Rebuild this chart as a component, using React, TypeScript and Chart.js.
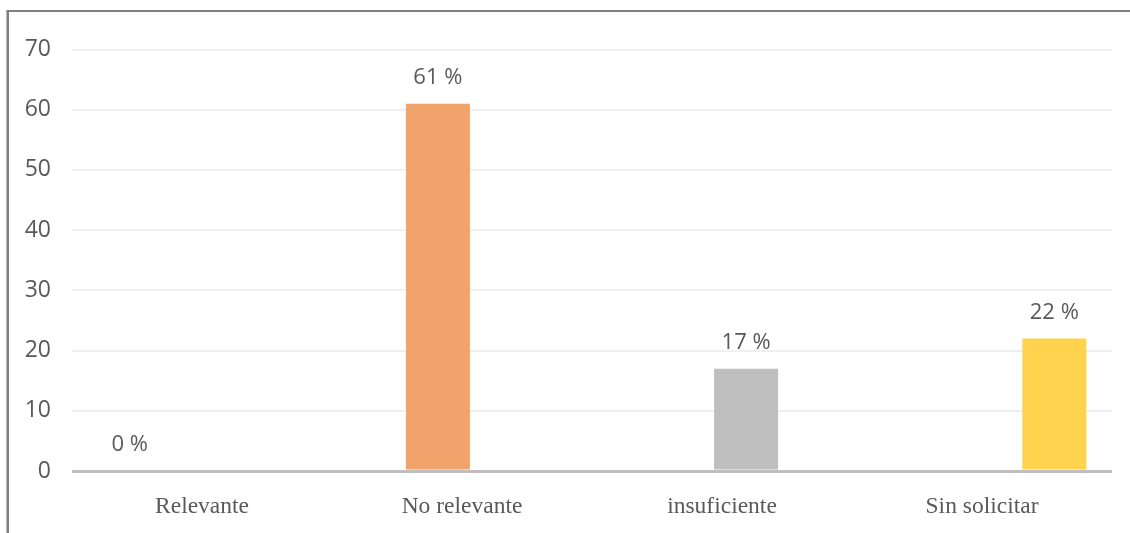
import React, { useEffect, useRef } from "react";
import { Chart, registerables } from "chart.js";

Chart.register(...registerables);

const categories = ["Relevante", "No relevante", "insuficiente", "Sin solicitar"];
const seriesValues = [0, 61, 17, 22];
const seriesColors = ["#5B9BD5", "#F0A36B", "#BFBFBF", "#FFD34E"];
const yTicks = [0, 10, 20, 30, 40, 50, 60, 70];

const TEXT = "#595959";

export default function App() {
  const ref = useRef<HTMLCanvasElement | null>(null);

  useEffect(() => {
    if (!ref.current) return;
    const datasets = seriesValues.map((v, i) => ({
      label: categories[i],
      data: categories.map((_, j) => (j === i ? v : null)),
      backgroundColor: seriesColors[i],
      borderWidth: 0,
      categoryPercentage: 0.7415,
      barPercentage: 1.328,
    }));

    const frame = {
      id: "frame",
      beforeDraw(chart: any) {
        const c = chart.ctx;
        c.save();
        c.fillStyle = "#ffffff";
        c.fillRect(0, 0, chart.width, chart.height);
        c.fillStyle = "#7F7F7F";
        c.fillRect(6.5, 10, 2.5, chart.height - 10);
        c.fillRect(6.5, 10, chart.width - 6.5, 2);
        c.restore();
      },
    };

    const labels = {
      id: "valueLabels",
      afterDatasetsDraw(chart: any) {
        const c = chart.ctx;
        c.save();
        c.font = "22px 'Open Sans'";
        c.fillStyle = TEXT;
        c.textAlign = "center";
        c.textBaseline = "alphabetic";
        chart.data.datasets.forEach((ds: any, di: number) => {
          const meta = chart.getDatasetMeta(di);
          meta.data.forEach((el: any, j: number) => {
            const v = ds.data[j];
            if (v === null || v === undefined) return;
            c.fillText(`${v} %`, el.x, el.y - 20);
          });
        });
        c.restore();
      },
    };

    const chart = new Chart(ref.current, {
      type: "bar",
      data: { labels: categories, datasets },
      options: {
        responsive: false,
        animation: false,
        layout: { padding: { top: 49.5, right: 18, left: 0, bottom: 0 } },
        plugins: {
          legend: { display: false },
          tooltip: { enabled: false },
        },
        scales: {
          x: {
            grid: { display: false, drawTicks: false },
            border: { display: false },
            ticks: {
              color: TEXT,
              font: { family: "'Liberation Serif'", size: 23.5 },
              padding: 22,
            },
            afterFit(scale: any) {
              scale.height = 62;
            },
          },
          y: {
            min: 0,
            max: 70,
            afterBuildTicks(scale: any) {
              scale.ticks = yTicks.map((v) => ({ value: v }));
            },
            grid: {
              drawTicks: false,
              color: (ctx: any) => (ctx.tick && ctx.tick.value === 0 ? "#BFBFBF" : "#EFEFEF"),
              lineWidth: (ctx: any) => (ctx.tick && ctx.tick.value === 0 ? 3 : 2),
            },
            border: { display: false },
            ticks: {
              color: TEXT,
              font: { family: "'Open Sans'", size: 23 },
              padding: 21,
            },
            afterFit(scale: any) {
              scale.width = 72;
            },
          },
        },
      },
      plugins: [frame, labels],
    } as any);

    return () => chart.destroy();
  }, []);

  return (
    <div style={{ position: "absolute", left: 0, top: 0, width: 1130, height: 533 }}>
      <canvas ref={ref} width={1130} height={533} />
    </div>
  );
}
